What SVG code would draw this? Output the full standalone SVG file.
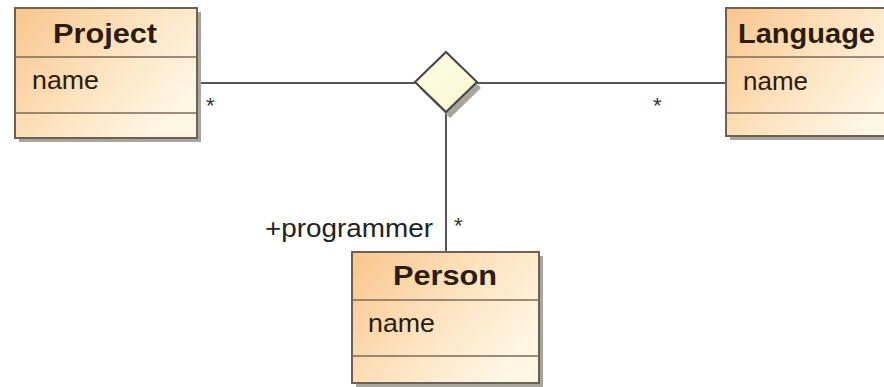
<svg xmlns="http://www.w3.org/2000/svg" width="884" height="387" viewBox="0 0 884 387">
  <defs>
    <linearGradient id="classFill" x1="0" y1="0" x2="1" y2="0.6">
      <stop offset="0" stop-color="#f9c58c"/>
      <stop offset="0.55" stop-color="#fde3bf"/>
      <stop offset="1" stop-color="#fff6e4"/>
    </linearGradient>
    <linearGradient id="diamondFill" x1="0" y1="0" x2="1" y2="1">
      <stop offset="0" stop-color="#ffffe8"/>
      <stop offset="1" stop-color="#f8f5cc"/>
    </linearGradient>
  </defs>
  <style>
    .shadow { fill: #a8a49e; }
    .box { fill: url(#classFill); stroke: #6e6152; stroke-width: 2; }
    .sep { stroke: #7a6a58; stroke-width: 1.6; }
    .edge { stroke: #555; stroke-width: 2; fill: none; }
    .title { font-family: "Liberation Sans", Arial, sans-serif; font-weight: bold; font-size: 27px; fill: #2b1c0e; }
    .attr { font-family: "Liberation Sans", Arial, sans-serif; font-size: 26px; fill: #2b1c0e; }
    .lbl { font-family: "Liberation Sans", Arial, sans-serif; font-size: 26px; fill: #222; }
    .mult { font-family: "Liberation Sans", Arial, sans-serif; font-size: 22px; fill: #333; }
  </style>
  <rect width="884" height="387" fill="#ffffff"/>

  <!-- associations -->
  <g id="connectors">
    <line class="edge" x1="197" y1="83" x2="415" y2="83"/>
    <line class="edge" x1="477" y1="83" x2="726" y2="83"/>
    <line class="edge" x1="446" y1="112" x2="446" y2="252"/>
    <text class="mult" x="206" y="113">*</text>
    <text class="mult" x="653" y="113">*</text>
    <text class="mult" x="454" y="233">*</text>
    <text class="lbl" x="265" y="237" textLength="168" lengthAdjust="spacingAndGlyphs">+programmer</text>
  </g>

  <!-- n-ary association diamond -->
  <g id="assoc">
    <polygon class="shadow" points="450,58 481,88 450,118 419,88"/>
    <polygon points="446,52 477,82 446,112 415,82" fill="url(#diamondFill)" stroke="#444" stroke-width="2"/>
  </g>

  <g id="project">
    <rect class="shadow" x="19" y="12" width="182" height="130"/>
    <rect class="box" x="15" y="8" width="182" height="130"/>
    <line class="sep" x1="15" y1="57" x2="197" y2="57"/>
    <line class="sep" x1="15" y1="113" x2="197" y2="113"/>
    <text class="title" x="53" y="43" textLength="104" lengthAdjust="spacingAndGlyphs">Project</text>
    <text class="attr" x="32" y="89" textLength="67" lengthAdjust="spacingAndGlyphs">name</text>
  </g>

  <g id="language">
    <rect class="shadow" x="730" y="12" width="170" height="128"/>
    <rect class="box" x="726" y="8" width="170" height="128"/>
    <line class="sep" x1="726" y1="57" x2="896" y2="57"/>
    <line class="sep" x1="726" y1="113" x2="896" y2="113"/>
    <text class="title" x="738" y="43" textLength="137" lengthAdjust="spacingAndGlyphs">Language</text>
    <text class="attr" x="743" y="90" textLength="65" lengthAdjust="spacingAndGlyphs">name</text>
  </g>

  <g id="person">
    <rect class="shadow" x="356" y="256" width="187" height="131"/>
    <rect class="box" x="352" y="252" width="187" height="131"/>
    <line class="sep" x1="352" y1="300" x2="539" y2="300"/>
    <line class="sep" x1="352" y1="356" x2="539" y2="356"/>
    <text class="title" x="393" y="285" textLength="104" lengthAdjust="spacingAndGlyphs">Person</text>
    <text class="attr" x="368" y="332" textLength="67" lengthAdjust="spacingAndGlyphs">name</text>
  </g>
</svg>
